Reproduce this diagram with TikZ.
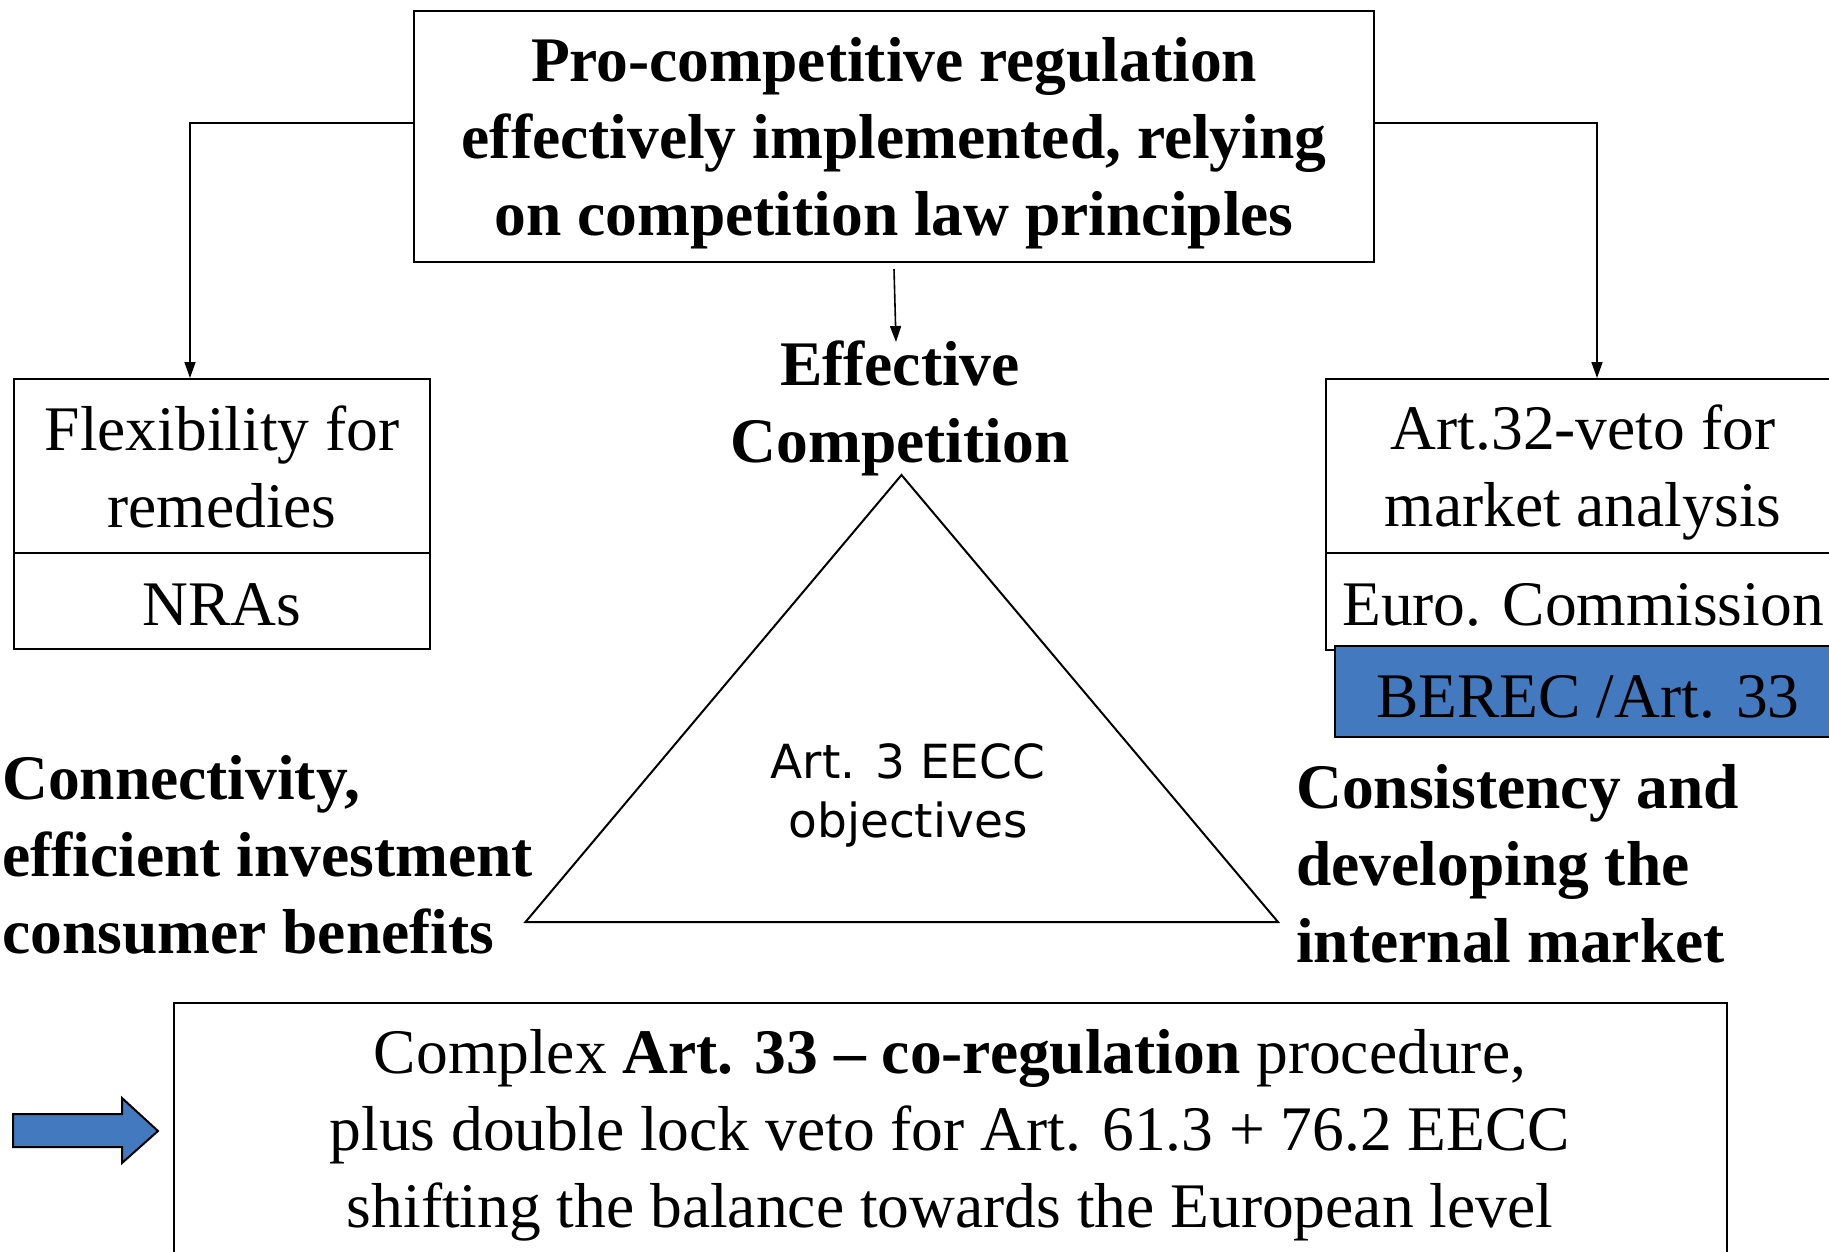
\documentclass[tikz,border=0pt]{standalone}
\usepackage{fontspec}
\setmainfont{Liberation Serif}
\newfontfamily\objfont{DejaVu Sans}
\usetikzlibrary{arrows.meta,calc}
\definecolor{bereblue}{RGB}{67,122,191}

\begin{document}
\begin{tikzpicture}[x=1pt,y=-1pt,
  box/.style={draw=black, line width=2pt, rectangle, inner sep=0pt},
  big/.style={font=\fontsize{63.5}{77}\selectfont},
  bigb/.style={font=\fontsize{63.5}{77}\selectfont\bfseries},
  conn/.style={line width=1.6pt, -{Triangle[length=16pt,width=11pt]}},
  lbl/.style={anchor=base, align=center, inner sep=0pt},
]
\clip (0,0) rectangle (1829,1252);
\fill[white] (0,0) rectangle (1829,1252);

% heading box (text nodes are placed by the baseline of their last line)
\node[box, minimum width=960pt, minimum height=251pt] (top) at (894,136.5) {};
\node[lbl, bigb] (toptxt) at (894,236)
  {Pro-competitive regulation\\effectively implemented, relying\\on competition law principles};

% national side
\node[box, minimum width=416pt, minimum height=174pt] (lup) at (222,466) {};
\node[box, minimum width=416pt, minimum height=96pt] (nra) at (222,601) {};
\node[lbl, big] (luptxt) at (222,527) {Flexibility for\\remedies};
\node[lbl, big] (nratxt) at (222,625) {NRAs};

% European side
\node[box, minimum width=514pt, minimum height=174pt] (rup) at (1583,466) {};
\node[box, minimum width=514pt, minimum height=97pt] (ec) at (1583,601.5) {};
\node[lbl, big] (ruptxt) at (1583,526) {Art.32-veto for\\market analysis};
\node[lbl, big] (ectxt) at (1583,625) {Euro. Commission};
\node[box, fill=bereblue, minimum width=506pt, minimum height=91pt] (berec) at (1588,691.5) {};
\node[lbl, big] (berectxt) at (1588,717) {BEREC /Art. 33};

% connectors from the heading box
\coordinate (hy) at (0,123);
\coordinate (lx) at (190,0);
\coordinate (rx) at (1597,0);
\coordinate (effTop) at (896,342);
\draw[conn] (top.west |- hy) -| (lup.north -| lx);
\draw[conn] (top.east |- hy) -| (rup.north -| rx);
\draw[conn] ([yshift=-6pt]top.south) -- (effTop);

% objectives triangle
\node[lbl, bigb] (eff) at (900,462) {Effective\\Competition};
\coordinate (apex) at (901.5,475);
\coordinate (bl) at (525.5,922);
\coordinate (br) at (1278,922);
\draw[line width=2pt, line join=miter] (apex) -- (bl) -- (br) -- cycle;
\node[lbl, font=\objfont\fontsize{47}{59}\selectfont] (obj) at (908,837) {Art. 3 EECC\\objectives};

\node[lbl, anchor=base west, align=left, bigb] (lefttxt) at (2,953)
  {Connectivity,\\efficient investment\\consumer benefits};
\node[lbl, anchor=base west, align=left, bigb] (righttxt) at (1296,962)
  {Consistency and\\developing the\\internal market};

% conclusion box
\node[box, minimum width=1553pt, minimum height=280pt] (bot) at (950.5,1143) {};
\node[lbl, big] (bottxt) at (950,1227)
  {Complex \textbf{Art. 33 -- co-regulation} procedure,\\plus double lock veto for Art. 61.3 + 76.2 EECC\\shifting the balance towards the European level};

% block arrow pointing at the conclusion
\draw[line width=2pt, fill=bereblue, line join=miter]
  (13,1114) -- (122,1114) -- (122,1098) -- (158,1131) -- (122,1163) -- (122,1147) -- (13,1147) -- cycle;
\end{tikzpicture}
\end{document}
